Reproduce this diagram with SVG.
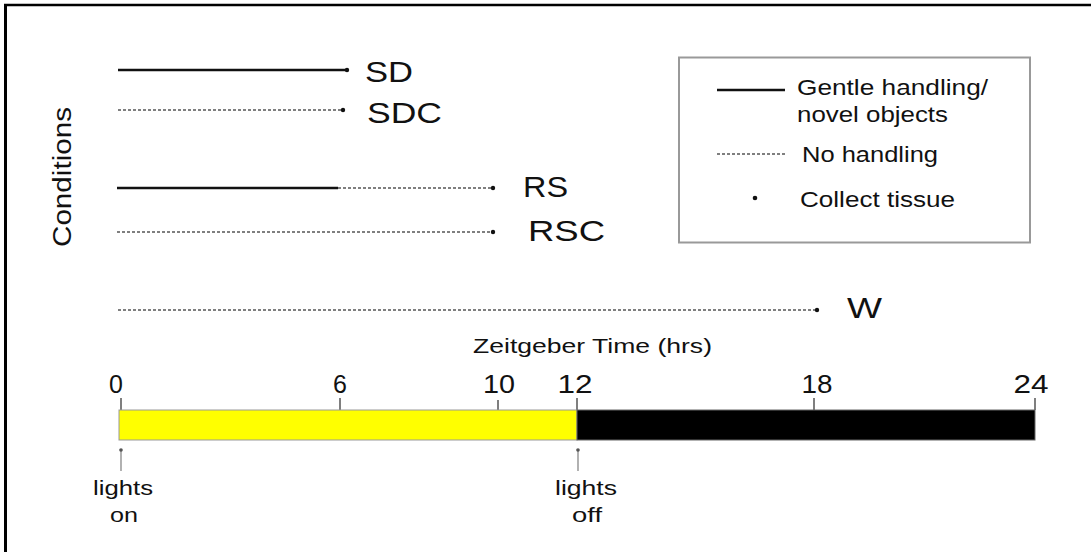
<svg xmlns="http://www.w3.org/2000/svg" width="1091" height="552" viewBox="0 0 1091 552">
  <style>
    text { font-family: "Liberation Sans", Arial, sans-serif; fill: #111; }
    .lbl { font-size: 30px; }
    .tick { font-size: 25px; text-anchor: middle; }
    .leg { font-size: 22.5px; }
    .small { font-size: 21px; text-anchor: middle; }
    .solid { stroke: #111; stroke-width: 2.6; fill: none; }
    .dash { stroke: #555; stroke-width: 1.4; stroke-dasharray: 3 2; fill: none; }
    .tk { stroke: #555; stroke-width: 1.5; }
    .up { stroke: #888; stroke-width: 1.3; }
  </style>
  <defs>
    <marker id="dot" viewBox="0 0 6 6" refX="3" refY="3" markerWidth="6" markerHeight="6" markerUnits="userSpaceOnUse">
      <circle cx="3" cy="3" r="2.2" fill="#111"/>
    </marker>
    <marker id="dotg" viewBox="0 0 6 6" refX="3" refY="3" markerWidth="5" markerHeight="5" markerUnits="userSpaceOnUse">
      <circle cx="3" cy="3" r="2.2" fill="#555"/>
    </marker>
  </defs>
  <rect width="1091" height="552" fill="#fff"/>
  <g id="frame">
    <line x1="4" y1="5" x2="1091" y2="5" stroke="#000" stroke-width="2.5"/>
    <line x1="5.5" y1="4" x2="5.5" y2="552" stroke="#000" stroke-width="3"/>
  </g>

  <g id="connectors">
    <line class="solid" x1="118" y1="70" x2="347" y2="70" marker-end="url(#dot)"/>
    <line class="dash" x1="118" y1="110" x2="343" y2="110" marker-end="url(#dot)"/>
    <line class="solid" x1="117" y1="188" x2="338" y2="188"/>
    <line class="dash" x1="338" y1="188" x2="493" y2="188" marker-end="url(#dot)"/>
    <line class="dash" x1="117" y1="232" x2="493" y2="232" marker-end="url(#dot)"/>
    <line class="dash" x1="118" y1="310" x2="817" y2="310" marker-end="url(#dot)"/>
    <line class="up" x1="121" y1="471" x2="121" y2="450" marker-end="url(#dotg)"/>
    <line class="up" x1="578" y1="471" x2="578" y2="450" marker-end="url(#dotg)"/>
  </g>

  <g id="axis-label">
    <text transform="rotate(-90 71 177)" x="71" y="177" font-size="25" text-anchor="middle" textLength="140" lengthAdjust="spacingAndGlyphs">Conditions</text>
  </g>

  <g id="node-SD"><text class="lbl" x="365" y="82" textLength="48" lengthAdjust="spacingAndGlyphs">SD</text></g>
  <g id="node-SDC"><text class="lbl" x="367" y="123" textLength="75" lengthAdjust="spacingAndGlyphs">SDC</text></g>
  <g id="node-RS"><text class="lbl" x="523" y="197" textLength="45" lengthAdjust="spacingAndGlyphs">RS</text></g>
  <g id="node-RSC"><text class="lbl" x="528" y="241" textLength="77" lengthAdjust="spacingAndGlyphs">RSC</text></g>
  <g id="node-W"><text class="lbl" x="847" y="318" textLength="35" lengthAdjust="spacingAndGlyphs">W</text></g>

  <g id="legend">
    <rect x="679" y="57.5" width="351" height="185" fill="none" stroke="#999" stroke-width="2"/>
    <line class="solid" x1="717" y1="90" x2="785" y2="90" stroke-width="2"/>
    <text class="leg" x="797" y="95" textLength="191" lengthAdjust="spacingAndGlyphs">Gentle handling/</text>
    <text class="leg" x="797" y="122" textLength="151" lengthAdjust="spacingAndGlyphs">novel objects</text>
    <line class="dash" x1="717" y1="154" x2="785" y2="154"/>
    <text class="leg" x="802" y="162" textLength="136" lengthAdjust="spacingAndGlyphs">No handling</text>
    <circle cx="755" cy="198" r="2.3" fill="#111"/>
    <text class="leg" x="800" y="207" textLength="155" lengthAdjust="spacingAndGlyphs">Collect tissue</text>
  </g>

  <g id="timeline">
    <text x="473" y="353" font-size="20" textLength="239" lengthAdjust="spacingAndGlyphs">Zeitgeber Time (hrs)</text>
    <text class="tick" x="116" y="393">0</text>
    <text class="tick" x="340" y="393">6</text>
    <text class="tick" x="499" y="393" textLength="32" lengthAdjust="spacingAndGlyphs">10</text>
    <text class="tick" x="575" y="393" textLength="35" lengthAdjust="spacingAndGlyphs">12</text>
    <text class="tick" x="817" y="393" textLength="31" lengthAdjust="spacingAndGlyphs">18</text>
    <text class="tick" x="1031" y="393" textLength="35" lengthAdjust="spacingAndGlyphs">24</text>
    <line class="tk" x1="121" y1="398" x2="121" y2="410"/>
    <line class="tk" x1="340" y1="398" x2="340" y2="410"/>
    <line class="tk" x1="498" y1="400" x2="498" y2="410"/>
    <line class="tk" x1="577" y1="398" x2="577" y2="410"/>
    <line class="tk" x1="814" y1="398" x2="814" y2="410"/>
    <line class="tk" x1="1035" y1="398" x2="1035" y2="410"/>
    <rect x="119" y="410" width="458" height="30" fill="#ffff00" stroke="#999" stroke-width="1"/>
    <rect x="577" y="410" width="458" height="30" fill="#000" stroke="#666" stroke-width="1"/>
  </g>

  <g id="node-lights-on">
    <text class="small" x="123" y="495" textLength="60" lengthAdjust="spacingAndGlyphs">lights</text>
    <text class="small" x="124" y="522" textLength="28" lengthAdjust="spacingAndGlyphs">on</text>
  </g>
  <g id="node-lights-off">
    <text class="small" x="586" y="495" textLength="62" lengthAdjust="spacingAndGlyphs">lights</text>
    <text class="small" x="587" y="522" textLength="30" lengthAdjust="spacingAndGlyphs">off</text>
  </g>
</svg>
